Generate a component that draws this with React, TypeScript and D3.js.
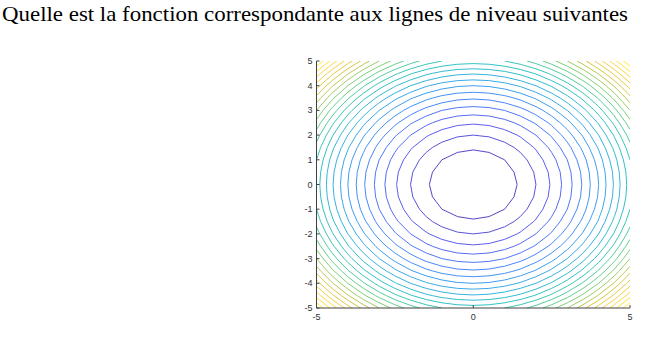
import React from "react";
import * as d3 from "d3";

const title = "Quelle est la fonction correspondante aux lignes de niveau suivantes";
const gridX = d3.range(-5, 5.0001, 0.5);
const gridY = d3.range(-5, 5.0001, 0.5);
const levels = d3.range(2, 49, 2);
const yTicks = [-5, -4, -3, -2, -1, 0, 1, 2, 3, 4, 5];
const xTicks = [-5, 0, 5];
const zRange = [0, 50];
const parulaStops = ["#3E26A8", "#484DF0", "#327CFC", "#20A5E2", "#19BFB6", "#64CD6F", "#D1BF27", "#FCCF30", "#F9FB15"];

const W = 650, H = 345;
const L = 316.5, R = 630, T = 61, B = 308;

export default function App() {
  const x = d3.scaleLinear().domain([-5, 5]).range([L, R]);
  const y = d3.scaleLinear().domain([-5, 5]).range([B, T]);
  const nx = gridX.length, ny = gridY.length;
  const values: number[] = [];
  for (let j = 0; j < ny; j++) for (let i = 0; i < nx; i++) values.push(gridX[j * 0 + i] ** 2 + gridY[j] ** 2);
  const contours = d3.contours().size([nx, ny]).thresholds(levels)(values);
  const step = 0.5;
  const cx = (c: number) => x(gridX[0] + (c - 0.5) * step);
  const cy = (c: number) => y(gridY[0] + (c - 0.5) * step);
  const line = d3.line<[number, number]>().x(p => cx(p[0])).y(p => cy(p[1]));
  const color = d3.scaleLinear<string>()
    .domain(parulaStops.map((_, i) => zRange[0] + (zRange[1] - zRange[0]) * i / (parulaStops.length - 1)))
    .range(parulaStops)
    .interpolate(d3.interpolateRgb);

  return (
    <svg width={W} height={H} style={{ position: "absolute", left: 0, top: 0, background: "#fff" }}>
      <text x={2} y={21} fontFamily="'Liberation Serif', serif" fontSize={21} fill="#000" textLength={626} lengthAdjust="spacingAndGlyphs">{title}</text>
      <defs>
        <clipPath id="plotclip"><rect x={L} y={T} width={R - L} height={B - T} /></clipPath>
      </defs>
      <g clipPath="url(#plotclip)" fill="none" strokeWidth={0.9}>
        {contours.map((c, k) => (
          <path key={k} stroke={color(c.value)}
            d={c.coordinates.map(poly => poly.map(ring => (line(ring as [number, number][]) || "") + "Z").join("")).join("")} />
        ))}
      </g>
      <g stroke="#404040" strokeWidth={1}>
        <line x1={L} x2={L} y1={T} y2={B} />
        <line x1={L} x2={R} y1={B} y2={B} />
        {yTicks.map(t => <line key={"yt" + t} x1={L} x2={L + 3} y1={y(t)} y2={y(t)} />)}
        {xTicks.map(t => <line key={"xt" + t} x1={x(t)} x2={x(t)} y1={B} y2={B - 3} />)}
      </g>
      <g fontFamily="'Liberation Sans', Arial, sans-serif" fontSize={9} fill="#333">
        {yTicks.map(t => (
          <text key={"yl" + t} x={L - 4} y={y(t)} textAnchor="end" dominantBaseline="central">{t}</text>
        ))}
        {xTicks.map(t => (
          <text key={"xl" + t} x={x(t)} y={B + 12} textAnchor="middle">{t}</text>
        ))}
      </g>
    </svg>
  );
}
